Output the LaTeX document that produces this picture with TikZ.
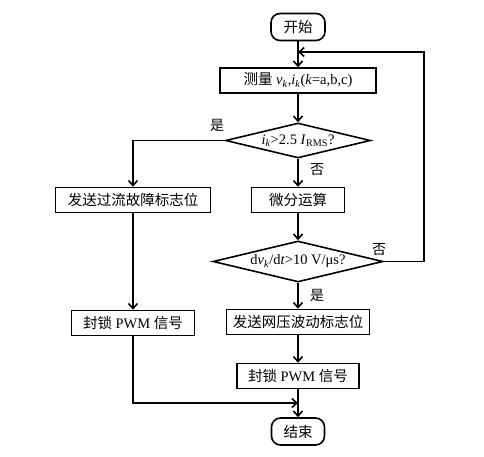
\documentclass[tikz,border=0pt]{standalone}
\usepackage{fontspec}
\setmainfont{Liberation Serif}
\newfontfamily\cjk{Noto Sans CJK SC}
\usetikzlibrary{shapes.geometric,arrows.meta}
\begin{document}
\begin{tikzpicture}[x=1pt,y=-1pt,
  txt/.style={font=\fontsize{14.5}{17}\selectfont},
  box/.style={txt,draw,line width=1.6pt,inner sep=0pt,minimum height=25pt},
  term/.style={box,rounded corners=9pt,minimum height=27pt},
  dec/.style={txt,draw,diamond,line width=1.6pt,inner sep=0pt,aspect=4},
  line/.style={line width=1.6pt},
  arr/.style={line,-{Straight Barb[length=5pt,width=9pt]}},
  lab/.style={font=\cjk\fontsize{14}{16}\selectfont}
]
\useasboundingbox[fill=white] (0,0) rectangle (484,457);

\node[term,minimum width=54pt] (start) at (298,27) {\cjk 开始};
\node[box,minimum width=156pt] (meas) at (298,80.5) {{\cjk 测量} \textit{v}\textsubscript{\textit{k}},\textit{i}\textsubscript{\textit{k}}(\textit{k}=a,b,c)};
\node[dec,minimum width=145pt,minimum height=35pt] (d1) at (298,140.5) {\textit{i}\textsubscript{\textit{k}}>2.5 \textit{I}\textsubscript{RMS}?};
\node[box,minimum width=155pt] (oc) at (133,200) {\cjk 发送过流故障标志位};
\node[box,minimum width=93pt] (diff) at (298,200) {\cjk 微分运算};
\node[dec,minimum width=170pt,minimum height=41pt] (d2) at (298,261.5) {d\textit{v}\textsubscript{\textit{k}}/d\textit{t}>10 V/μs?};
\node[box,minimum width=143pt] (wave) at (298,322) {\cjk 发送网压波动标志位};
\node[box,minimum width=123pt] (pwmL) at (133,323) {{\cjk 封锁} PWM {\cjk 信号}};
\node[box,minimum width=122pt] (pwmR) at (298,376) {{\cjk 封锁} PWM {\cjk 信号}};
\node[term,minimum width=53pt] (end) at (298,431.5) {\cjk 结束};

\coordinate (fb) at (298,52);
\coordinate (j) at (298,403);

\draw[arr] (start) -- (meas);
\draw[arr] (meas) -- (d1);
\draw[arr] (d1.west) -| (oc.north);
\draw[arr] (d1) -- (diff);
\draw[arr] (diff) -- (d2);
\draw[arr] (d2.east) -- ++(40,0) |- (fb);
\draw[arr] (d2) -- (wave);
\draw[arr] (oc) -- (pwmL);
\draw[arr] (wave) -- (pwmR);
\draw[arr] (pwmL.south) |- (j);
\draw[arr] (pwmR) -- (end);

\node[lab] (l1) at (217,125) {是};
\node[lab] (l2) at (317,170) {否};
\node[lab] (l3) at (379,250) {否};
\node[lab] (l4) at (317,295) {是};
\end{tikzpicture}
\end{document}
